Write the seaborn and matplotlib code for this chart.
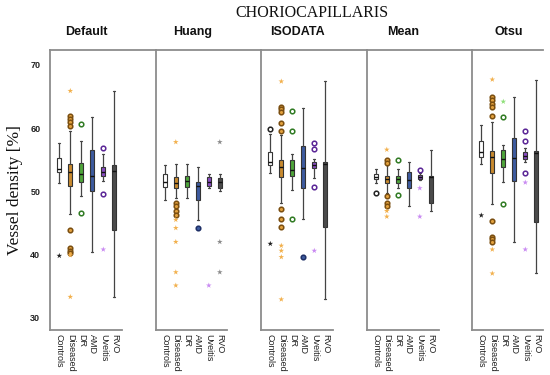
import numpy as np
import pandas as pd
import matplotlib
matplotlib.use("Agg")
import matplotlib.pyplot as plt
import seaborn as sns

# ============================
#   Data
# ============================
groups = ["Controls", "Diseased", "DR", "AMD", "Uveitis", "RVO"]
methods = ["Default", "Huang", "ISODATA", "Mean", "Otsu"]

# (whisker low, Q1, median, Q3, whisker high) per group
default_box = [(51.3, 53.1, 53.5, 55.3, 57.7), (46.4, 50.9, 53.0, 54.4, 59.6), (49.3, 51.5, 52.8, 54.5, 58.0),
               (40.4, 50.0, 52.4, 56.6, 61.8), (51.7, 52.4, 53.1, 53.9, 55.9), (33.3, 43.8, 53.2, 54.2, 65.9)]
huang_box = [(48.7, 50.7, 51.5, 52.7, 54.1), (48.9, 50.5, 51.3, 52.2, 54.3), (49.0, 50.7, 51.6, 52.4, 54.3),
             (45.5, 48.7, 50.9, 51.5, 53.9), (50.5, 50.9, 51.5, 52.2, 52.7), (50.1, 50.6, 51.4, 52.1, 52.7)]
isodata_box = [(52.9, 54.2, 54.7, 56.2, 59.0), (48.1, 52.2, 53.8, 55.0, 58.9), (50.2, 52.4, 53.4, 55.0, 55.9),
               (45.6, 50.6, 53.7, 57.2, 63.2), (52.1, 53.7, 54.2, 54.7, 55.1), (33.0, 44.3, 54.3, 54.6, 67.4)]
mean_box = [(51.3, 51.9, 52.3, 52.7, 53.5), (49.7, 51.3, 51.9, 52.5, 54.2), (50.5, 51.3, 51.9, 52.4, 53.5),
            (47.7, 50.6, 51.8, 53.0, 54.7), (51.8, 52.0, 52.3, 52.6, 52.9), (46.9, 48.1, 52.2, 52.4, 56.6)]
otsu_box = [(54.3, 55.4, 56.2, 58.0, 60.5), (48.0, 52.9, 55.4, 56.4, 61.0), (51.5, 53.8, 55.1, 56.6, 57.3),
            (42.0, 51.6, 55.2, 58.4, 64.9), (54.6, 55.1, 55.6, 56.2, 56.8), (37.0, 45.2, 56.0, 56.4, 67.7)]

# outliers (circles) and extreme values (stars)
default_circles = {"Diseased": [61.9, 61.4, 60.9, 60.4, 43.8, 41.0, 40.6, 40.3], "DR": [60.6, 46.6],
                   "Uveitis": [56.8, 49.6]}
default_stars = {"Controls": [39.8], "Diseased": [65.9, 39.9, 33.3], "Uveitis": [40.8]}
huang_circles = {"Diseased": [48.2, 47.6, 46.9, 46.3], "AMD": [44.2]}
huang_stars = {"Diseased": [57.8, 45.5, 44.2, 42.0, 37.2, 35.1], "Uveitis": [35.1], "RVO": [57.8, 42.0, 37.2]}
isodata_circles = {"Controls": [59.8], "Diseased": [63.4, 63.0, 62.6, 60.8, 59.6, 47.2, 45.6, 44.3],
                   "DR": [62.7, 59.6, 45.6], "AMD": [39.6], "Uveitis": [57.7, 56.7, 50.7]}
isodata_stars = {"Controls": [41.7], "Diseased": [67.4, 41.4, 40.6, 39.6, 32.9], "Uveitis": [40.6]}
mean_circles = {"Controls": [49.8], "Diseased": [54.9, 54.5, 49.3, 48.1, 47.7], "DR": [54.9, 49.4],
                "Uveitis": [53.4]}
mean_stars = {"Diseased": [56.6, 46.9, 46.0], "Uveitis": [50.5, 46.0]}
otsu_circles = {"Diseased": [64.9, 64.4, 63.8, 63.3, 61.9, 45.3, 42.8, 42.5, 42.0], "DR": [61.7, 48.0],
                "Uveitis": [59.6, 58.0, 52.9]}
otsu_stars = {"Controls": [46.2], "Diseased": [67.7, 40.8, 37.0], "DR": [64.2], "Uveitis": [51.4, 40.8]}

box_data = [default_box, huang_box, isodata_box, mean_box, otsu_box]
circle_data = [default_circles, huang_circles, isodata_circles, mean_circles, otsu_circles]
star_data = [default_stars, huang_stars, isodata_stars, mean_stars, otsu_stars]

# ============================
#   Styling
# ============================
box_fill = {"Controls": "#ffffff", "Diseased": "#c98a2e", "DR": "#4ea53a",
            "AMD": "#3d5b9f", "Uveitis": "#8a4cc4", "RVO": "#4b4b4b"}
circle_edge = {"Controls": "#222222", "Diseased": "#7a4e10", "DR": "#2f7a22",
               "AMD": "#1e2f66", "Uveitis": "#5a2596", "RVO": "#333333"}
circle_face = {"Controls": "#ffffff", "Diseased": "#e3a13e", "DR": "#ffffff",
               "AMD": "#3d5b9f", "Uveitis": "#ffffff", "RVO": "#ffffff"}
star_color = {"Controls": "#222222", "Diseased": "#f2b04c", "DR": "#8fe07a",
              "AMD": "#3d5b9f", "Uveitis": "#c98af2", "RVO": "#8a8a8a"}

sns.set_style("white")
plt.rcParams["font.family"] = ["Liberation Sans", "DejaVu Sans"]
spine_col = "#8c8c8c"

W, H = 550, 375
fig = plt.figure(figsize=(W / 100, H / 100), dpi=100)

px_unit = 11.0
top_px, bot_px = 50, 330
lefts = [50, 155.5, 261, 366.5, 472]
widths = [105.5, 105.5, 105.5, 105.5, 71]
x0 = -9.3 / px_unit

for i, (m, boxes, circles, stars) in enumerate(zip(methods, box_data, circle_data, star_data)):
    ax = fig.add_axes([lefts[i] / W, 1 - bot_px / H, widths[i] / W, (bot_px - top_px) / H])

    stats = []
    for g, (lo, q1, med, q3, hi) in zip(groups, boxes):
        stats.append(dict(label=g, whislo=lo, q1=q1, med=med, q3=q3, whishi=hi, fliers=[]))
    bp = ax.bxp(stats, positions=range(len(groups)), widths=0.36, patch_artist=True,
                showfliers=False, capwidths=0.16,
                boxprops=dict(edgecolor="#333333", linewidth=0.8),
                medianprops=dict(color="#111111", linewidth=1.0),
                whiskerprops=dict(color="#444444", linewidth=0.9),
                capprops=dict(color="#444444", linewidth=0.9))
    for patch, g in zip(bp["boxes"], groups):
        patch.set_facecolor(box_fill[g])

    for g, vals in circles.items():
        pos = groups.index(g)
        sns.scatterplot(x=[pos] * len(vals), y=vals, marker="o", s=11, color=circle_face[g],
                        edgecolor=circle_edge[g], linewidth=1.1, ax=ax, legend=False, zorder=4)
    for g, vals in stars.items():
        pos = groups.index(g)
        sns.scatterplot(x=[pos] * len(vals), y=vals, marker="*", s=18, color=star_color[g],
                        edgecolor="none", linewidth=0, ax=ax, legend=False, zorder=4)

    ax.set_xlim(x0, x0 + widths[i] / px_unit)
    ax.set_ylim(28.05, 72.37)
    ax.set_xlabel("")
    ax.set_ylabel("")

    ax.set_xticks(range(len(groups)))
    ax.set_xticklabels(groups, rotation=-90, fontsize=6.5, color="#222222")
    ax.tick_params(axis="x", length=0, pad=3)
    for lab in ax.get_xticklabels():
        lab.set_va("top")
        lab.set_ha("center")

    ax.set_yticks([30, 40, 50, 60, 70])
    if i == 0:
        ax.set_yticklabels(["30", "40", "50", "60", "70"], fontsize=6.5, fontweight="bold", color="#222222")
        ax.tick_params(axis="y", length=0, pad=7)
    else:
        ax.tick_params(axis="y", length=0, labelleft=False)

    for side in ["left", "top", "bottom"]:
        ax.spines[side].set_color(spine_col)
        ax.spines[side].set_linewidth(1.3)
    ax.spines["right"].set_visible(False)
    ax.spines["bottom"].set_bounds(x0, min(5.7, x0 + widths[i] / px_unit))
    ax.grid(False)

    ax.text(2.5, 1.064, m, transform=ax.get_xaxis_transform(), ha="center", va="center",
            fontsize=9, fontweight="bold", color="#111111")

fig.text(312 / W, 1 - 13 / H, "CHORIOCAPILLARIS", ha="center", va="center",
         fontsize=11.5, family=["Liberation Serif", "DejaVu Serif"], color="#111111")
fig.text(15 / W, 1 - 190 / H, "Vessel density [%]", rotation=90, ha="center", va="center",
         fontsize=12.5, family=["Liberation Serif", "DejaVu Serif"], color="#111111")

fig.savefig("out.png", dpi=100)
